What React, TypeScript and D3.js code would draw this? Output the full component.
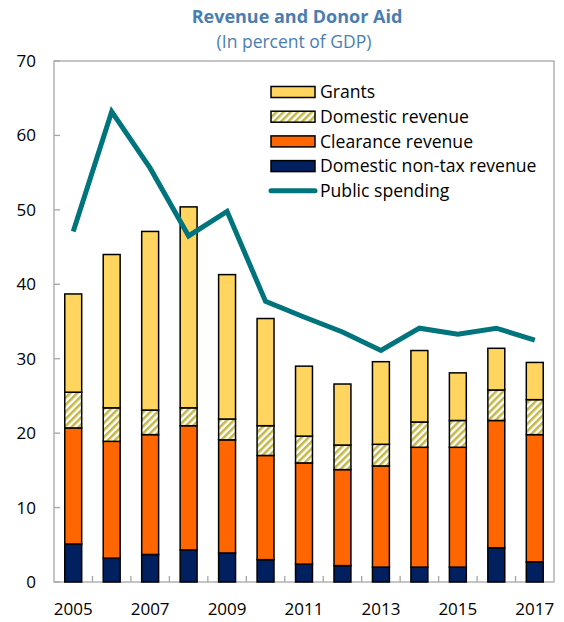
import React, { useRef, useEffect } from 'react';
import * as d3 from 'd3';

const years = ['2005', '2006', '2007', '2008', '2009', '2010', '2011', '2012', '2013', '2014', '2015', '2016', '2017'];
const yearLabels = ['2005', '2007', '2009', '2011', '2013', '2015', '2017'];

// stacked bottom -> top
const nonTaxRevenue = [5.1, 3.2, 3.7, 4.3, 3.9, 3.0, 2.4, 2.2, 2.0, 2.0, 2.0, 4.6, 2.7];
const clearanceRevenue = [15.6, 15.7, 16.1, 16.7, 15.2, 14.0, 13.6, 12.9, 13.6, 16.1, 16.1, 17.1, 17.1];
const domesticRevenue = [4.8, 4.5, 3.3, 2.4, 2.8, 4.0, 3.6, 3.3, 2.9, 3.4, 3.6, 4.1, 4.7];
const grants = [13.2, 20.6, 24.0, 27.0, 19.4, 14.4, 9.4, 8.2, 11.1, 9.6, 6.4, 5.6, 5.0];
const publicSpending = [47.1, 63.2, 55.6, 46.5, 49.8, 37.7, 35.6, 33.6, 31.1, 34.1, 33.3, 34.1, 32.5];

const yTicks = [0, 10, 20, 30, 40, 50, 60, 70];

const seriesKeys = ['nonTax', 'clearance', 'domestic', 'grants'];
const fills = {
  nonTax: '#002060',
  clearance: '#FF6600',
  domestic: 'url(#hatch)',
  grants: '#FFD55F',
};

const legendItems = [
  { label: 'Grants', key: 'grants' },
  { label: 'Domestic revenue', key: 'domestic' },
  { label: 'Clearance revenue', key: 'clearance' },
  { label: 'Domestic non-tax revenue', key: 'nonTax' },
  { label: 'Public spending', key: 'line' },
];

const FONT = '"Open Sans", sans-serif';

const App = () => {
  const svgRef = useRef(null);

  useEffect(() => {
    const svg = d3.select(svgRef.current);
    svg.selectAll('*').remove();

    const margin = { top: 61, right: 10, bottom: 40, left: 54 };
    const W = 564, H = 622;
    const width = W - margin.left - margin.right;
    const height = H - margin.top - margin.bottom;

    const defs = svg.append('defs');
    const pat = defs.append('pattern')
      .attr('id', 'hatch')
      .attr('patternUnits', 'userSpaceOnUse')
      .attr('width', 5)
      .attr('height', 5)
      .attr('patternTransform', 'rotate(45)');
    pat.append('rect').attr('width', 5).attr('height', 5).attr('fill', '#ffffff');
    pat.append('rect').attr('width', 2.6).attr('height', 5).attr('fill', '#C4B84A');

    // titles
    svg.append('text')
      .attr('x', 297).attr('y', 23)
      .attr('text-anchor', 'middle')
      .attr('font-family', FONT)
      .attr('font-weight', 'bold')
      .attr('font-size', 18)
      .attr('fill', '#4A7EB0')
      .text('Revenue and Donor Aid');
    svg.append('text')
      .attr('x', 294).attr('y', 48)
      .attr('text-anchor', 'middle')
      .attr('font-family', FONT)
      .attr('font-size', 17.5)
      .attr('fill', '#4A7EB0')
      .text('(In percent of GDP)');

    const g = svg.append('g')
      .attr('transform', `translate(${margin.left},${margin.top})`);

    const x = d3.scaleBand().domain(years).range([0, width]).paddingInner(0.56).paddingOuter(0.28);
    const y = d3.scaleLinear().domain([0, 70]).range([height, 0]);

    const table = years.map((yr, i) => ({
      year: yr,
      nonTax: nonTaxRevenue[i],
      clearance: clearanceRevenue[i],
      domestic: domesticRevenue[i],
      grants: grants[i],
    }));
    const stacked = d3.stack().keys(seriesKeys)(table);

    // frame
    g.append('rect')
      .attr('width', width).attr('height', height)
      .attr('fill', 'none').attr('stroke', '#A6A6A6').attr('stroke-width', 1.3);

    // y ticks (inside)
    g.selectAll('.ytick').data(yTicks).enter().append('line')
      .attr('x1', 0).attr('x2', 6)
      .attr('y1', d => y(d)).attr('y2', d => y(d))
      .attr('stroke', '#A6A6A6').attr('stroke-width', 1.3);
    g.selectAll('.ylab').data(yTicks).enter().append('text')
      .attr('x', -18).attr('y', d => y(d))
      .attr('dy', '0.35em')
      .attr('text-anchor', 'end')
      .attr('font-family', FONT).attr('font-size', 17).attr('fill', '#000')
      .text(d => d);

    // x ticks at band boundaries
    const step = x.step();
    const boundaries = years.slice(1).map(yr => x(yr) + x.bandwidth() / 2 - step / 2);
    g.selectAll('.xtick').data(boundaries).enter().append('line')
      .attr('x1', d => d).attr('x2', d => d)
      .attr('y1', height).attr('y2', height - 6)
      .attr('stroke', '#A6A6A6').attr('stroke-width', 1.3);
    g.selectAll('.xlab').data(yearLabels).enter().append('text')
      .attr('x', d => x(d) + x.bandwidth() / 2)
      .attr('y', height + 33)
      .attr('text-anchor', 'middle')
      .attr('font-family', FONT).attr('font-size', 17).attr('fill', '#000')
      .text(d => d);

    // bars
    stacked.forEach(layer => {
      g.selectAll(`.bar-${layer.key}`).data(layer).enter().append('rect')
        .attr('x', d => x(d.data.year))
        .attr('y', d => y(d[1]))
        .attr('width', x.bandwidth())
        .attr('height', d => y(d[0]) - y(d[1]))
        .attr('fill', fills[layer.key])
        .attr('stroke', '#000')
        .attr('stroke-width', 1.5);
    });

    // line
    const line = d3.line()
      .x((d, i) => x(years[i]) + x.bandwidth() / 2)
      .y(d => y(d));
    g.append('path')
      .datum(publicSpending)
      .attr('d', line)
      .attr('fill', 'none')
      .attr('stroke', '#00747C')
      .attr('stroke-width', 5)
      .attr('stroke-linejoin', 'miter');

    // legend
    const lg = svg.append('g').attr('transform', 'translate(270,92)');
    const rowH = 24.7;
    legendItems.forEach((item, i) => {
      const row = lg.append('g').attr('transform', `translate(0,${i * rowH})`);
      if (item.key === 'line') {
        row.append('line')
          .attr('x1', 1).attr('x2', 45)
          .attr('y1', 0).attr('y2', 0)
          .attr('stroke', '#00747C').attr('stroke-width', 5)
          .attr('stroke-linecap', 'round');
      } else {
        row.append('rect')
          .attr('x', 1).attr('y', -5.5)
          .attr('width', 44).attr('height', 11)
          .attr('fill', fills[item.key])
          .attr('stroke', '#000').attr('stroke-width', 1.5);
      }
      row.append('text')
        .attr('x', 50).attr('y', 0)
        .attr('dy', '0.35em')
        .attr('font-family', FONT).attr('font-size', 17.6).attr('fill', '#000')
        .text(item.label);
    });
  }, []);

  return (
    <svg ref={svgRef} width={564} height={622}
      style={{ position: 'absolute', left: 0, top: 0, background: '#fff' }} />
  );
};

export default App;
